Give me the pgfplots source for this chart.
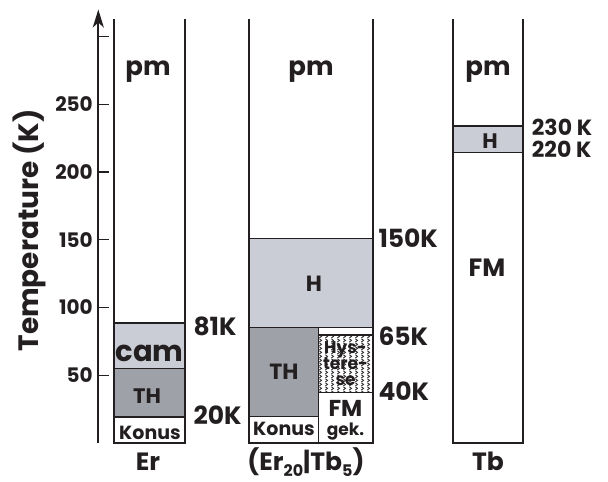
\documentclass[border=0pt]{standalone}
\usepackage{pgfplots}
\pgfplotsset{compat=1.18}
\usepackage{fontspec}
\setmainfont{Poppins}
\usetikzlibrary{arrows.meta,patterns}
\definecolor{hgray}{RGB}{202,205,213}
\definecolor{thgray}{RGB}{158,162,168}
\definecolor{lc}{RGB}{35,31,32}
\pgfdeclarepatternformonly{zigzag}{\pgfpointorigin}{\pgfpoint{6pt}{4pt}}{\pgfpoint{6pt}{4pt}}{%
  \pgfsetlinewidth{1pt}%
  \pgfpathmoveto{\pgfpoint{1.5pt}{0pt}}%
  \pgfpathlineto{\pgfpoint{4pt}{2pt}}%
  \pgfpathlineto{\pgfpoint{1.5pt}{4pt}}%
  \pgfusepath{stroke}%
}
\tikzset{lab/.style={font=\fontsize{#1}{#1}\selectfont\bfseries, anchor=base, inner sep=0pt, text=lc}}
\begin{document}
\begin{tikzpicture}
\begin{axis}[
  scale only axis, width=509.7pt, height=433.5pt,
  xmin=98.3, xmax=608, ymin=0, ymax=320,
  axis x line=none, axis y line=left,
  y axis line style={line width=2.2pt, lc, -{Stealth[length=18pt,width=11pt,inset=5pt]}},
  ytick={50,100,150,200,250,300}, yticklabels={50,100,150,200,250,{}},
  tick align=inside, major tick length=11pt,
  tick style={line width=1.4pt, lc},
  yticklabel style={font=\fontsize{20}{20}\selectfont\bfseries, text=lc, xshift=-2pt},
  /pgf/number format/assume math mode=true,
  clip=false,
  ylabel={Temperature (K)},
  every axis y label/.style={at={(axis cs:29,157)}, rotate=90, anchor=center, font=\fontsize{28}{28}\selectfont\bfseries, text=lc},
]
% Er column
\addplot[draw=lc, line width=1.5pt, fill=white] coordinates {(114.3,0) (185.3,0) (185.3,19) (114.3,19)} -- cycle;
\addplot[draw=lc, line width=1.5pt, fill=thgray] coordinates {(114.3,19) (185.3,19) (185.3,55.1) (114.3,55.1)} -- cycle;
\addplot[draw=lc, line width=1.5pt, fill=hgray] coordinates {(114.3,55.1) (185.3,55.1) (185.3,88.5) (114.3,88.5)} -- cycle;
\addplot[draw=lc, line width=1.8pt] coordinates {(114.3,312.7) (114.3,0) (185.3,0) (185.3,312.7)};
% (Er20|Tb5) column
\addplot[draw=lc, line width=1.5pt, fill=hgray] coordinates {(249.3,85.4) (372.7,85.4) (372.7,151.1) (249.3,151.1)} -- cycle;
\addplot[draw=lc, line width=1.5pt, fill=thgray] coordinates {(249.3,19.4) (318.3,19.4) (318.3,85.4) (249.3,85.4)} -- cycle;
\addplot[draw=lc, line width=1.5pt, fill=white] coordinates {(249.3,0) (318.3,0) (318.3,19.4) (249.3,19.4)} -- cycle;
\addplot[draw=lc, line width=1.5pt, fill=white] coordinates {(318.3,79.7) (372.7,79.7) (372.7,85.4) (318.3,85.4)} -- cycle;
\addplot[draw=lc, line width=1.5pt, fill=white, postaction={pattern=zigzag, pattern color=lc}] coordinates {(318.3,37.1) (372.7,37.1) (372.7,79.7) (318.3,79.7)} -- cycle;
\addplot[draw=lc, line width=1.5pt, fill=white] coordinates {(318.3,0) (372.7,0) (372.7,37.1) (318.3,37.1)} -- cycle;
\addplot[draw=lc, line width=1.8pt] coordinates {(249.3,312.7) (249.3,0) (372.7,0) (372.7,312.7)};
% Tb column
\addplot[draw=lc, line width=1.5pt, fill=hgray] coordinates {(453.3,214.6) (522.7,214.6) (522.7,234) (453.3,234)} -- cycle;
\addplot[draw=lc, line width=1.8pt] coordinates {(453.3,312.7) (453.3,0) (522.7,0) (522.7,312.7)};
% labels
\node[lab=26] at (axis cs:148,271.6) {pm};
\node[lab=26] at (axis cs:311,271.6) {pm};
\node[lab=26] at (axis cs:488,271.6) {pm};
\node[lab=29] at (axis cs:149.5,60) {cam};
\node[lab=21] at (axis cs:147,29.3) {TH};
\node[lab=19] at (axis cs:150,2.7) {Konus};
\node[lab=25, anchor=base west] at (axis cs:193.3,79.7) {81K};
\node[lab=25, anchor=base west] at (axis cs:193.3,14) {20K};
\node[lab=22] at (axis cs:314,111.7) {H};
\node[lab=22] at (axis cs:284,47) {TH};
\node[lab=19] at (axis cs:284,5.2) {Konus};
\node[lab=17] at (axis cs:345.5,66.4) {Hys-};
\node[lab=17] at (axis cs:345.5,54.6) {tere-};
\node[lab=17] at (axis cs:345.5,42.8) {se};
\node[lab=23] at (axis cs:345.5,19.3) {FM};
\node[lab=17] at (axis cs:345.5,5.4) {gek.};
\node[lab=25, anchor=base west] at (axis cs:378.3,144) {150K};
\node[lab=25, anchor=base west] at (axis cs:378.3,72.3) {65K};
\node[lab=25, anchor=base west] at (axis cs:378.3,31.7) {40K};
\node[lab=21] at (axis cs:490,217.5) {H};
\node[lab=25] at (axis cs:487,122.8) {FM};
\node[lab=22, anchor=base west] at (axis cs:531.7,227) {230 K};
\node[lab=22, anchor=base west] at (axis cs:531.7,210.8) {220 K};
\node[lab=25] at (axis cs:148,-20.5) {Er};
\node[lab=25] at (axis cs:306,-20.5) {(Er\raisebox{-6pt}{\fontsize{16}{16}\selectfont 20}|Tb\raisebox{-6pt}{\fontsize{16}{16}\selectfont 5})};
\node[lab=25] at (axis cs:488,-20.5) {Tb};
\path (axis cs:0,327) (axis cs:608,-28.5);
\end{axis}
\end{tikzpicture}
\end{document}
